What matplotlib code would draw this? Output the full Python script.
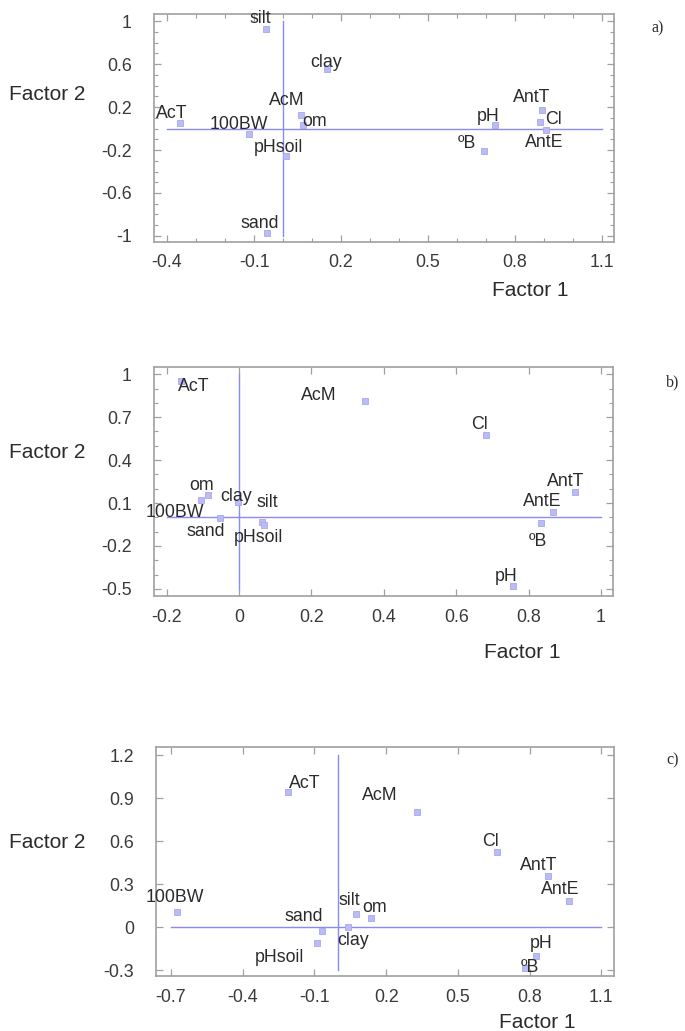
import matplotlib
matplotlib.use("Agg")
import matplotlib.pyplot as plt
from matplotlib.ticker import MultipleLocator, FixedLocator, FuncFormatter

plt.rcParams['font.family'] = ['Liberation Sans', 'DejaVu Sans']
plt.rcParams['axes.unicode_minus'] = False

# ---- data: factor loadings ----
names_a = ["silt", "clay", "AcM", "om", "AcT", "100BW", "pHsoil", "sand",
           "pH", "ºB", "AntT", "Cl", "AntE"]
f1_a = [-0.058, 0.151, 0.063, 0.068, -0.357, -0.119, 0.010, -0.054,
        0.731, 0.693, 0.893, 0.887, 0.905]
f2_a = [0.929, 0.557, 0.130, 0.031, 0.053, -0.046, -0.257, -0.975,
        0.031, -0.207, 0.170, 0.059, -0.015]

names_b = ["AcT", "AcM", "om", "100BW", "clay", "silt", "sand", "pHsoil",
           "Cl", "AntT", "AntE", "ºB", "pH"]
f1_b = [-0.161, 0.349, -0.087, -0.106, -0.002, 0.064, -0.054, 0.070,
        0.683, 0.928, 0.866, 0.834, 0.757]
f2_b = [0.955, 0.815, 0.156, 0.121, 0.109, -0.035, -0.003, -0.054,
        0.576, 0.180, 0.039, -0.037, -0.477]

names_c = ["AcT", "100BW", "silt", "sand", "clay", "pHsoil", "om", "AcM",
           "Cl", "AntT", "AntE", "pH", "ºB"]
f1_c = [-0.209, -0.676, 0.073, -0.067, 0.042, -0.090, 0.136, 0.327,
        0.664, 0.876, 0.964, 0.827, 0.782]
f2_c = [0.944, 0.106, 0.094, -0.028, 0.000, -0.110, 0.063, 0.807,
        0.523, 0.354, 0.186, -0.198, -0.286]

# label offsets in pixels (dx, dy) for each point
offs_a = [(-6, 10), (-1, 6), (-15, 14), (12, 4), (-8, 9), (-10, 9), (-7, 9),
          (-8, 10), (-7, 9), (-17, 7), (-10, 13), (13, 3), (-1, -12)]
offs_b = [(13, -6), (-47, 5), (-6, 10), (-26, -12), (-2, 5), (5, 20),
          (-14, -14), (-6, -12), (-7, 10), (-9, 10), (-10, 10), (-3, -19),
          (-7, 9)]
offs_c = [(16, 8), (-2, 15), (-7, 13), (-19, 15), (5, -13), (-37, -14),
          (4, 11), (-37, 16), (-7, 11), (-9, 11), (-9, 11), (5, 12), (5, 1)]

LINE = '#8a8af0'
PT = '#bcbcf4'
FRAME = '#a0a0a0'
TXT = '#2b2b2b'

fig = plt.figure(figsize=(6.85, 10.31), dpi=100)
W, H = 685.0, 1031.0


def fmt(v, pos):
    s = "%.1f" % v
    if s.endswith(".0"):
        s = s[:-2]
    if s == "-0":
        s = "0"
    return s


def panel(box, names, xs, ys, offs, xlim, ylim, xmaj, ymaj, xmin, ymin,
          hx, vy, tag, tagxy, f2y, f1xy):
    l, t, r, b = box
    ax = fig.add_axes([l / W, 1 - b / H, (r - l) / W, (b - t) / H])
    ax.set_xlim(*xlim)
    ax.set_ylim(*ylim)
    ax.plot(hx, [0, 0], color=LINE, lw=1.0, zorder=1)
    ax.plot([0, 0], vy, color=LINE, lw=1.0, zorder=1)
    ax.plot(xs, ys, 's', ms=3.8, mfc=PT, mec='#a8a8ee', mew=0.6, ls='none', zorder=2)
    for n, x, y, (dx, dy) in zip(names, xs, ys, offs):
        ax.annotate(n, (x, y), xytext=(dx, dy), textcoords='offset pixels',
                    ha='center', va='center', fontsize=12.8, color=TXT, zorder=3)
    ax.xaxis.set_major_locator(FixedLocator(xmaj))
    ax.yaxis.set_major_locator(FixedLocator(ymaj))
    if xmin:
        ax.xaxis.set_minor_locator(MultipleLocator(xmin))
    if ymin:
        ax.yaxis.set_minor_locator(MultipleLocator(ymin))
    ax.xaxis.set_major_formatter(FuncFormatter(fmt))
    ax.yaxis.set_major_formatter(FuncFormatter(fmt))
    ax.tick_params(which='both', direction='in', top=True, right=True,
                   color=FRAME, labelcolor='#3a3a3a', labelsize=12.8)
    ax.tick_params(which='major', length=5, width=0.9)
    ax.tick_params(which='minor', length=3, width=0.8)
    ax.tick_params(axis='x', pad=9)
    ax.tick_params(axis='y', pad=16)
    for s in ax.spines.values():
        s.set_color(FRAME)
        s.set_linewidth(1.2)
    fig.text(47 / W, 1 - f2y / H, "Factor 2", fontsize=15, color=TXT,
             ha='center', va='center')
    fig.text(f1xy[0] / W, 1 - f1xy[1] / H, "Factor 1", fontsize=15, color=TXT,
             ha='center', va='center')
    fig.text(tagxy[0] / W, 1 - tagxy[1] / H, tag, fontsize=11.5, color=TXT,
             ha='center', va='center', family='Liberation Serif')
    return ax


panel((154, 14, 614, 241.5), names_a, f1_a, f2_a, offs_a,
      (-0.445, 1.141), (-1.052, 1.068),
      [-0.4, -0.1, 0.2, 0.5, 0.8, 1.1], [-1, -0.6, -0.2, 0.2, 0.6, 1],
      0.1, 0.1, [-0.4, 1.1], [-1, 1], "a)", (658, 28), 95, (530, 290))

panel((154, 366.7, 613, 596), names_b, f1_b, f2_b, offs_b,
      (-0.235, 1.033), (-0.550, 1.053),
      [-0.2, 0, 0.2, 0.4, 0.6, 0.8, 1], [-0.5, -0.2, 0.1, 0.4, 0.7, 1],
      None, 0.1, [-0.2, 1], [-0.5, 1], "b)", (673, 382), 453, (522, 652))

panel((156, 747.3, 614, 976), names_c, f1_c, f2_c, offs_c,
      (-0.763, 1.153), (-0.34, 1.255),
      [-0.7, -0.4, -0.1, 0.2, 0.5, 0.8, 1.1], [-0.3, 0, 0.3, 0.6, 0.9, 1.2],
      None, None, [-0.7, 1.1], [-0.3, 1.2], "c)", (673, 760), 842, (537, 1023))

fig.savefig("out.png", dpi=100)
